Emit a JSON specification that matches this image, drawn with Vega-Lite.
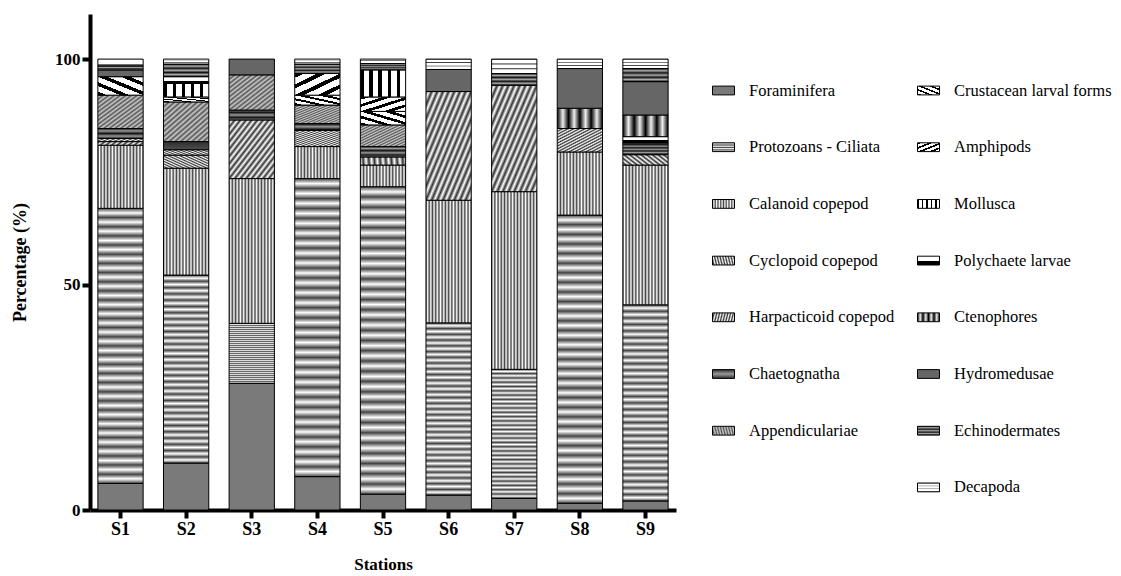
{
  "$schema": "https://vega.github.io/schema/vega-lite/v6.json",
  "width": 586,
  "height": 496,
  "autosize": {"type": "none"},
  "padding": {"left": 90, "top": 14, "right": 445, "bottom": 66},
  "background": "white",
  "config": {"view": {"stroke": null}, "font": "Liberation Serif"},
  "params": [
    {"name": "gProto", "expr": "{gradient:'linear',x1:0,y1:0,x2:0,y2:1,stops:[{offset:0,color:'#444'},{offset:0.017,color:'#fff'},{offset:0.033,color:'#444'},{offset:0.05,color:'#fff'},{offset:0.067,color:'#444'},{offset:0.083,color:'#fff'},{offset:0.1,color:'#444'},{offset:0.117,color:'#fff'},{offset:0.133,color:'#444'},{offset:0.15,color:'#fff'},{offset:0.167,color:'#444'},{offset:0.183,color:'#fff'},{offset:0.2,color:'#444'},{offset:0.217,color:'#fff'},{offset:0.233,color:'#444'},{offset:0.25,color:'#fff'},{offset:0.267,color:'#444'},{offset:0.283,color:'#fff'},{offset:0.3,color:'#444'},{offset:0.317,color:'#fff'},{offset:0.333,color:'#444'},{offset:0.35,color:'#fff'},{offset:0.367,color:'#444'},{offset:0.383,color:'#fff'},{offset:0.4,color:'#444'},{offset:0.417,color:'#fff'},{offset:0.433,color:'#444'},{offset:0.45,color:'#fff'},{offset:0.467,color:'#444'},{offset:0.483,color:'#fff'},{offset:0.5,color:'#444'},{offset:0.517,color:'#fff'},{offset:0.533,color:'#444'},{offset:0.55,color:'#fff'},{offset:0.567,color:'#444'},{offset:0.583,color:'#fff'},{offset:0.6,color:'#444'},{offset:0.617,color:'#fff'},{offset:0.633,color:'#444'},{offset:0.65,color:'#fff'},{offset:0.667,color:'#444'},{offset:0.683,color:'#fff'},{offset:0.7,color:'#444'},{offset:0.717,color:'#fff'},{offset:0.733,color:'#444'},{offset:0.75,color:'#fff'},{offset:0.767,color:'#444'},{offset:0.783,color:'#fff'},{offset:0.8,color:'#444'},{offset:0.817,color:'#fff'},{offset:0.833,color:'#444'},{offset:0.85,color:'#fff'},{offset:0.867,color:'#444'},{offset:0.883,color:'#fff'},{offset:0.9,color:'#444'},{offset:0.917,color:'#fff'},{offset:0.933,color:'#444'},{offset:0.95,color:'#fff'},{offset:0.967,color:'#444'},{offset:0.983,color:'#fff'},{offset:1,color:'#444'}]}"},
    {"name": "gCal", "expr": "{gradient:'linear',x1:0,y1:0,x2:1,y2:0,stops:[{offset:0,color:'#444'},{offset:0.036,color:'#fff'},{offset:0.071,color:'#444'},{offset:0.107,color:'#fff'},{offset:0.143,color:'#444'},{offset:0.179,color:'#fff'},{offset:0.214,color:'#444'},{offset:0.25,color:'#fff'},{offset:0.286,color:'#444'},{offset:0.321,color:'#fff'},{offset:0.357,color:'#444'},{offset:0.393,color:'#fff'},{offset:0.429,color:'#444'},{offset:0.464,color:'#fff'},{offset:0.5,color:'#444'},{offset:0.536,color:'#fff'},{offset:0.571,color:'#444'},{offset:0.607,color:'#fff'},{offset:0.643,color:'#444'},{offset:0.679,color:'#fff'},{offset:0.714,color:'#444'},{offset:0.75,color:'#fff'},{offset:0.786,color:'#444'},{offset:0.821,color:'#fff'},{offset:0.857,color:'#444'},{offset:0.893,color:'#fff'},{offset:0.929,color:'#444'},{offset:0.964,color:'#fff'},{offset:1,color:'#444'}]}"},
    {"name": "gCyc", "expr": "{gradient:'linear',x1:0,y1:0,x2:1,y2:1,stops:[{offset:0,color:'#333'},{offset:0.031,color:'#fff'},{offset:0.063,color:'#333'},{offset:0.094,color:'#fff'},{offset:0.125,color:'#333'},{offset:0.156,color:'#fff'},{offset:0.188,color:'#333'},{offset:0.219,color:'#fff'},{offset:0.25,color:'#333'},{offset:0.281,color:'#fff'},{offset:0.313,color:'#333'},{offset:0.344,color:'#fff'},{offset:0.375,color:'#333'},{offset:0.406,color:'#fff'},{offset:0.438,color:'#333'},{offset:0.469,color:'#fff'},{offset:0.5,color:'#333'},{offset:0.531,color:'#fff'},{offset:0.563,color:'#333'},{offset:0.594,color:'#fff'},{offset:0.625,color:'#333'},{offset:0.656,color:'#fff'},{offset:0.688,color:'#333'},{offset:0.719,color:'#fff'},{offset:0.75,color:'#333'},{offset:0.781,color:'#fff'},{offset:0.813,color:'#333'},{offset:0.844,color:'#fff'},{offset:0.875,color:'#333'},{offset:0.906,color:'#fff'},{offset:0.938,color:'#333'},{offset:0.969,color:'#fff'},{offset:1,color:'#333'}]}"},
    {"name": "gHarp", "expr": "{gradient:'linear',x1:0,y1:1,x2:1,y2:0,stops:[{offset:0,color:'#333'},{offset:0.031,color:'#fff'},{offset:0.063,color:'#333'},{offset:0.094,color:'#fff'},{offset:0.125,color:'#333'},{offset:0.156,color:'#fff'},{offset:0.188,color:'#333'},{offset:0.219,color:'#fff'},{offset:0.25,color:'#333'},{offset:0.281,color:'#fff'},{offset:0.313,color:'#333'},{offset:0.344,color:'#fff'},{offset:0.375,color:'#333'},{offset:0.406,color:'#fff'},{offset:0.438,color:'#333'},{offset:0.469,color:'#fff'},{offset:0.5,color:'#333'},{offset:0.531,color:'#fff'},{offset:0.563,color:'#333'},{offset:0.594,color:'#fff'},{offset:0.625,color:'#333'},{offset:0.656,color:'#fff'},{offset:0.688,color:'#333'},{offset:0.719,color:'#fff'},{offset:0.75,color:'#333'},{offset:0.781,color:'#fff'},{offset:0.813,color:'#333'},{offset:0.844,color:'#fff'},{offset:0.875,color:'#333'},{offset:0.906,color:'#fff'},{offset:0.938,color:'#333'},{offset:0.969,color:'#fff'},{offset:1,color:'#333'}]}"},
    {"name": "gApp", "expr": "{gradient:'linear',x1:0,y1:0,x2:1,y2:1,stops:[{offset:0,color:'#555'},{offset:0.031,color:'#ccc'},{offset:0.063,color:'#555'},{offset:0.094,color:'#ccc'},{offset:0.125,color:'#555'},{offset:0.156,color:'#ccc'},{offset:0.188,color:'#555'},{offset:0.219,color:'#ccc'},{offset:0.25,color:'#555'},{offset:0.281,color:'#ccc'},{offset:0.313,color:'#555'},{offset:0.344,color:'#ccc'},{offset:0.375,color:'#555'},{offset:0.406,color:'#ccc'},{offset:0.438,color:'#555'},{offset:0.469,color:'#ccc'},{offset:0.5,color:'#555'},{offset:0.531,color:'#ccc'},{offset:0.563,color:'#555'},{offset:0.594,color:'#ccc'},{offset:0.625,color:'#555'},{offset:0.656,color:'#ccc'},{offset:0.688,color:'#555'},{offset:0.719,color:'#ccc'},{offset:0.75,color:'#555'},{offset:0.781,color:'#ccc'},{offset:0.813,color:'#555'},{offset:0.844,color:'#ccc'},{offset:0.875,color:'#555'},{offset:0.906,color:'#ccc'},{offset:0.938,color:'#555'},{offset:0.969,color:'#ccc'},{offset:1,color:'#555'}]}"},
    {"name": "gChae", "expr": "{gradient:'linear',x1:0,y1:0,x2:0,y2:1,stops:[{offset:0,color:'#111'},{offset:0.063,color:'#999'},{offset:0.125,color:'#111'},{offset:0.188,color:'#999'},{offset:0.25,color:'#111'},{offset:0.313,color:'#999'},{offset:0.375,color:'#111'},{offset:0.438,color:'#999'},{offset:0.5,color:'#111'},{offset:0.563,color:'#999'},{offset:0.625,color:'#111'},{offset:0.688,color:'#999'},{offset:0.75,color:'#111'},{offset:0.813,color:'#999'},{offset:0.875,color:'#111'},{offset:0.938,color:'#999'},{offset:1,color:'#111'}]}"},
    {"name": "gCrus", "expr": "{gradient:'linear',x1:0,y1:1,x2:1,y2:0,stops:[{offset:0,color:'#000'},{offset:0.1,color:'#000'},{offset:0.1,color:'#fff'},{offset:0.25,color:'#fff'},{offset:0.25,color:'#000'},{offset:0.35,color:'#000'},{offset:0.35,color:'#fff'},{offset:0.5,color:'#fff'},{offset:0.5,color:'#000'},{offset:0.6,color:'#000'},{offset:0.6,color:'#fff'},{offset:0.75,color:'#fff'},{offset:0.75,color:'#000'},{offset:0.85,color:'#000'},{offset:0.85,color:'#fff'},{offset:1,color:'#fff'}]}"},
    {"name": "gAmph", "expr": "{gradient:'linear',x1:0,y1:0,x2:1,y2:1,stops:[{offset:0,color:'#000'},{offset:0.1,color:'#000'},{offset:0.1,color:'#fff'},{offset:0.25,color:'#fff'},{offset:0.25,color:'#000'},{offset:0.35,color:'#000'},{offset:0.35,color:'#fff'},{offset:0.5,color:'#fff'},{offset:0.5,color:'#000'},{offset:0.6,color:'#000'},{offset:0.6,color:'#fff'},{offset:0.75,color:'#fff'},{offset:0.75,color:'#000'},{offset:0.85,color:'#000'},{offset:0.85,color:'#fff'},{offset:1,color:'#fff'}]}"},
    {"name": "gMoll", "expr": "{gradient:'linear',x1:0,y1:0,x2:1,y2:0,stops:[{offset:0,color:'#000'},{offset:0.07,color:'#000'},{offset:0.07,color:'#fff'},{offset:0.2,color:'#fff'},{offset:0.2,color:'#000'},{offset:0.27,color:'#000'},{offset:0.27,color:'#fff'},{offset:0.4,color:'#fff'},{offset:0.4,color:'#000'},{offset:0.47,color:'#000'},{offset:0.47,color:'#fff'},{offset:0.6,color:'#fff'},{offset:0.6,color:'#000'},{offset:0.67,color:'#000'},{offset:0.67,color:'#fff'},{offset:0.8,color:'#fff'},{offset:0.8,color:'#000'},{offset:0.87,color:'#000'},{offset:0.87,color:'#fff'},{offset:1,color:'#fff'}]}"},
    {"name": "gPoly", "expr": "{gradient:'linear',x1:0,y1:0,x2:0,y2:1,stops:[{offset:0,color:'#fff'},{offset:0.6,color:'#fff'},{offset:0.6,color:'#000'},{offset:1,color:'#000'}]}"},
    {"name": "gCten", "expr": "{gradient:'linear',x1:0,y1:0,x2:1,y2:0,stops:[{offset:0,color:'#000'},{offset:0.125,color:'#eee'},{offset:0.25,color:'#000'},{offset:0.375,color:'#eee'},{offset:0.5,color:'#000'},{offset:0.625,color:'#eee'},{offset:0.75,color:'#000'},{offset:0.875,color:'#eee'},{offset:1,color:'#000'}]}"},
    {"name": "gEchi", "expr": "{gradient:'linear',x1:0,y1:0,x2:0,y2:1,stops:[{offset:0,color:'#111'},{offset:0.167,color:'#aaa'},{offset:0.333,color:'#111'},{offset:0.5,color:'#aaa'},{offset:0.667,color:'#111'},{offset:0.833,color:'#aaa'},{offset:1,color:'#111'}]}"},
    {"name": "gDeca", "expr": "{gradient:'linear',x1:0,y1:0,x2:0,y2:1,stops:[{offset:0,color:'#333'},{offset:0.08,color:'#fff'},{offset:0.27,color:'#fff'},{offset:0.333,color:'#333'},{offset:0.41,color:'#fff'},{offset:0.6,color:'#fff'},{offset:0.667,color:'#333'},{offset:0.74,color:'#fff'},{offset:0.93,color:'#fff'},{offset:1,color:'#333'}]}"}
  ],
  "data": {"values": [
    {"s": "S1", "t": "Foraminifera", "k": 1, "v": 5.9},
    {"s": "S1", "t": "Protozoans - Ciliata", "k": 2, "v": 61.0},
    {"s": "S1", "t": "Calanoid copepod", "k": 3, "v": 14.0},
    {"s": "S1", "t": "Cyclopoid copepod", "k": 4, "v": 0.8},
    {"s": "S1", "t": "Harpacticoid copepod", "k": 5, "v": 0.7},
    {"s": "S1", "t": "Chaetognatha", "k": 6, "v": 2.2},
    {"s": "S1", "t": "Appendiculariae", "k": 7, "v": 7.4},
    {"s": "S1", "t": "Crustacean larval forms", "k": 8, "v": 4.1},
    {"s": "S1", "t": "Hydromedusae", "k": 13, "v": 1.5},
    {"s": "S1", "t": "Echinodermates", "k": 14, "v": 1.1},
    {"s": "S1", "t": "Decapoda", "k": 15, "v": 1.3},
    {"s": "S2", "t": "Foraminifera", "k": 1, "v": 10.4},
    {"s": "S2", "t": "Protozoans - Ciliata", "k": 2, "v": 41.7},
    {"s": "S2", "t": "Calanoid copepod", "k": 3, "v": 23.7},
    {"s": "S2", "t": "Cyclopoid copepod", "k": 4, "v": 2.9},
    {"s": "S2", "t": "Harpacticoid copepod", "k": 5, "v": 1.2},
    {"s": "S2", "t": "Chaetognatha", "k": 6, "v": 1.8},
    {"s": "S2", "t": "Appendiculariae", "k": 7, "v": 8.8},
    {"s": "S2", "t": "Crustacean larval forms", "k": 8, "v": 1.1},
    {"s": "S2", "t": "Mollusca", "k": 10, "v": 3.0},
    {"s": "S2", "t": "Polychaete larvae", "k": 11, "v": 1.5},
    {"s": "S2", "t": "Echinodermates", "k": 14, "v": 2.8},
    {"s": "S2", "t": "Decapoda", "k": 15, "v": 1.1},
    {"s": "S3", "t": "Foraminifera", "k": 1, "v": 28.1},
    {"s": "S3", "t": "Protozoans - Ciliata", "k": 2, "v": 13.3},
    {"s": "S3", "t": "Calanoid copepod", "k": 3, "v": 32.1},
    {"s": "S3", "t": "Cyclopoid copepod", "k": 4, "v": 13.0},
    {"s": "S3", "t": "Chaetognatha", "k": 6, "v": 2.2},
    {"s": "S3", "t": "Appendiculariae", "k": 7, "v": 7.8},
    {"s": "S3", "t": "Hydromedusae", "k": 13, "v": 3.5},
    {"s": "S4", "t": "Foraminifera", "k": 1, "v": 7.4},
    {"s": "S4", "t": "Protozoans - Ciliata", "k": 2, "v": 66.1},
    {"s": "S4", "t": "Calanoid copepod", "k": 3, "v": 7.1},
    {"s": "S4", "t": "Cyclopoid copepod", "k": 4, "v": 3.6},
    {"s": "S4", "t": "Chaetognatha", "k": 6, "v": 1.5},
    {"s": "S4", "t": "Appendiculariae", "k": 7, "v": 4.1},
    {"s": "S4", "t": "Crustacean larval forms", "k": 8, "v": 2.2},
    {"s": "S4", "t": "Amphipods", "k": 9, "v": 4.8},
    {"s": "S4", "t": "Echinodermates", "k": 14, "v": 2.1},
    {"s": "S4", "t": "Decapoda", "k": 15, "v": 1.1},
    {"s": "S5", "t": "Foraminifera", "k": 1, "v": 3.5},
    {"s": "S5", "t": "Protozoans - Ciliata", "k": 2, "v": 68.2},
    {"s": "S5", "t": "Calanoid copepod", "k": 3, "v": 4.8},
    {"s": "S5", "t": "Cyclopoid copepod", "k": 4, "v": 1.8},
    {"s": "S5", "t": "Chaetognatha", "k": 6, "v": 2.3},
    {"s": "S5", "t": "Appendiculariae", "k": 7, "v": 4.8},
    {"s": "S5", "t": "Crustacean larval forms", "k": 8, "v": 3.0},
    {"s": "S5", "t": "Amphipods", "k": 9, "v": 3.2},
    {"s": "S5", "t": "Mollusca", "k": 10, "v": 6.0},
    {"s": "S5", "t": "Echinodermates", "k": 14, "v": 1.4},
    {"s": "S5", "t": "Decapoda", "k": 15, "v": 1.0},
    {"s": "S6", "t": "Foraminifera", "k": 1, "v": 3.3},
    {"s": "S6", "t": "Protozoans - Ciliata", "k": 2, "v": 38.2},
    {"s": "S6", "t": "Calanoid copepod", "k": 3, "v": 27.2},
    {"s": "S6", "t": "Cyclopoid copepod", "k": 4, "v": 24.1},
    {"s": "S6", "t": "Hydromedusae", "k": 13, "v": 4.9},
    {"s": "S6", "t": "Decapoda", "k": 15, "v": 2.3},
    {"s": "S7", "t": "Foraminifera", "k": 1, "v": 2.6},
    {"s": "S7", "t": "Protozoans - Ciliata", "k": 2, "v": 28.6},
    {"s": "S7", "t": "Calanoid copepod", "k": 3, "v": 39.4},
    {"s": "S7", "t": "Cyclopoid copepod", "k": 4, "v": 23.6},
    {"s": "S7", "t": "Echinodermates", "k": 14, "v": 2.6},
    {"s": "S7", "t": "Decapoda", "k": 15, "v": 3.2},
    {"s": "S8", "t": "Foraminifera", "k": 1, "v": 1.5},
    {"s": "S8", "t": "Protozoans - Ciliata", "k": 2, "v": 63.9},
    {"s": "S8", "t": "Calanoid copepod", "k": 3, "v": 14.0},
    {"s": "S8", "t": "Cyclopoid copepod", "k": 4, "v": 5.2},
    {"s": "S8", "t": "Ctenophores", "k": 12, "v": 4.5},
    {"s": "S8", "t": "Hydromedusae", "k": 13, "v": 8.8},
    {"s": "S8", "t": "Decapoda", "k": 15, "v": 2.1},
    {"s": "S9", "t": "Foraminifera", "k": 1, "v": 2.0},
    {"s": "S9", "t": "Protozoans - Ciliata", "k": 2, "v": 43.5},
    {"s": "S9", "t": "Calanoid copepod", "k": 3, "v": 31.0},
    {"s": "S9", "t": "Cyclopoid copepod", "k": 4, "v": 2.3},
    {"s": "S9", "t": "Chaetognatha", "k": 6, "v": 2.6},
    {"s": "S9", "t": "Polychaete larvae", "k": 11, "v": 1.4},
    {"s": "S9", "t": "Ctenophores", "k": 12, "v": 4.8},
    {"s": "S9", "t": "Hydromedusae", "k": 13, "v": 7.4},
    {"s": "S9", "t": "Echinodermates", "k": 14, "v": 2.9},
    {"s": "S9", "t": "Decapoda", "k": 15, "v": 2.1}
  ]},
  "mark": {"type": "bar", "stroke": "black", "strokeWidth": 1},
  "encoding": {
    "x": {
      "field": "s", "type": "nominal", "title": "Stations",
      "scale": {"paddingInner": 0.31, "paddingOuter": 0.12},
      "axis": {
        "labelAngle": 0, "labelFont": "Liberation Serif", "labelFontWeight": "bold", "labelFontSize": 18, "labelColor": "black", "labelPadding": 2,
        "domainColor": "black", "domainWidth": 4, "tickColor": "black", "tickWidth": 4, "tickSize": 8,
        "titleFont": "Liberation Serif", "titleFontWeight": "bold", "titleFontSize": 17, "titleColor": "black", "titlePadding": 18
      }
    },
    "y": {
      "field": "v", "type": "quantitative", "stack": "zero", "title": "Percentage (%)",
      "scale": {"domain": [0, 110], "nice": false},
      "axis": {
        "values": [0, 50, 100], "grid": false, "labelFont": "Liberation Serif", "labelFontWeight": "bold", "labelFontSize": 17, "labelColor": "black", "labelPadding": 2,
        "domainColor": "black", "domainWidth": 4, "tickColor": "black", "tickWidth": 4, "tickSize": 8,
        "titleFont": "Liberation Serif", "titleFontWeight": "bold", "titleFontSize": 18, "titleColor": "black", "titlePadding": 25
      }
    },
    "color": {
      "field": "t", "type": "nominal",
      "scale": {
        "domain": ["Foraminifera", "Protozoans - Ciliata", "Calanoid copepod", "Cyclopoid copepod", "Harpacticoid copepod", "Chaetognatha", "Appendiculariae", "_", "Crustacean larval forms", "Amphipods", "Mollusca", "Polychaete larvae", "Ctenophores", "Hydromedusae", "Echinodermates", "Decapoda"],
        "range": ["#7a7a7a", {"expr": "gProto"}, {"expr": "gCal"}, {"expr": "gCyc"}, {"expr": "gHarp"}, {"expr": "gChae"}, {"expr": "gApp"}, "white", {"expr": "gCrus"}, {"expr": "gAmph"}, {"expr": "gMoll"}, {"expr": "gPoly"}, {"expr": "gCten"}, "#666666", {"expr": "gEchi"}, {"expr": "gDeca"}]
      },
      "legend": {
        "title": null, "orient": "none", "legendX": 622, "legendY": 65, "columns": 2, "padding": 0,
        "symbolType": "M-1,-0.4H1V0.4H-1Z", "symbolSize": 484, "symbolStrokeColor": "black", "symbolStrokeWidth": 1,
        "labelFont": "Liberation Serif", "labelFontSize": 16.5, "labelColor": "black", "labelOffset": 14, "labelLimit": 300,
        "rowPadding": 36.7, "columnPadding": 20,
        "labelExpr": "datum.value === '_' ? '' : datum.label",
        "encode": {"symbols": {"update": {"stroke": [{"test": "datum.value === '_'", "value": "transparent"}, {"value": "black"}]}}}
      }
    },
    "order": {"field": "k", "type": "quantitative", "sort": "ascending"}
  }
}
